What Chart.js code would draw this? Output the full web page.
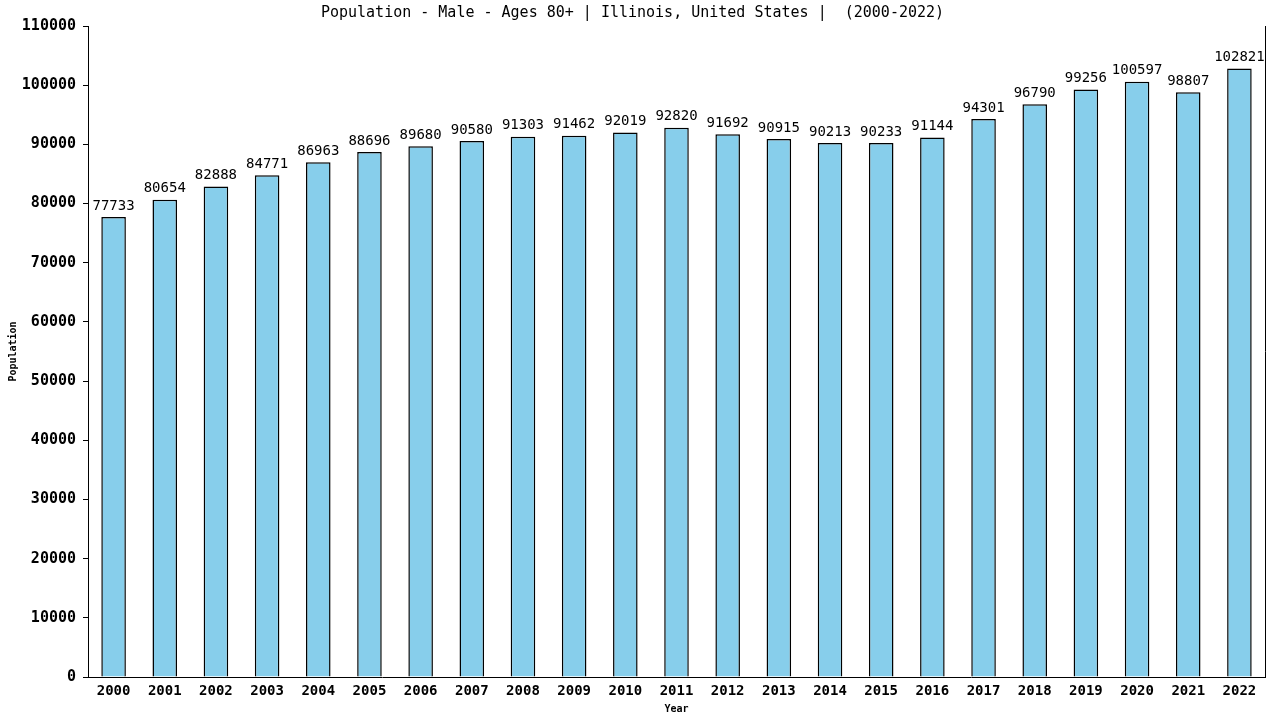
<!DOCTYPE html>
<html>
<head>
<meta charset="utf-8">
<script src="https://cdn.jsdelivr.net/npm/chart.js@4/dist/chart.umd.min.js"></script>
<style>
  html, body { margin: 0; padding: 0; background: #fff; }
  #wrap { width: 1280px; height: 720px; }
</style>
</head>
<body>
<div id="wrap"><canvas id="popChart" width="1280" height="720"></canvas></div>
<script>
// Dữ liệu
const years = ['2000', '2001', '2002', '2003', '2004', '2005', '2006', '2007', '2008', '2009', '2010', '2011',
  '2012', '2013', '2014', '2015', '2016', '2017', '2018', '2019', '2020', '2021', '2022'];
const population = [77733, 80654, 82888, 84771, 86963, 88696, 89680, 90580, 91303, 91462, 92019, 92820,
  91692, 90915, 90213, 90233, 91144, 94301, 96790, 99256, 100597, 98807, 102821];
const yTicks = [0, 10000, 20000, 30000, 40000, 50000, 60000, 70000, 80000, 90000, 100000, 110000];

const FONT = '"DejaVu Sans Mono", "Liberation Mono", monospace';

// nhãn giá trị trên cột + khung bên phải
const barLabels = {
  id: 'barLabels',
  afterDatasetsDraw(chart) {
    const ctx = chart.ctx;
    const meta = chart.getDatasetMeta(0);
    ctx.save();
    ctx.font = '14px ' + FONT;
    ctx.fillStyle = '#000';
    ctx.textAlign = 'center';
    ctx.textBaseline = 'bottom';
    meta.data.forEach((bar, i) => {
      ctx.fillText(String(population[i]), bar.x, bar.y - 4);
    });
    const a = chart.chartArea;
    ctx.strokeStyle = '#000';
    ctx.lineWidth = 1;
    ctx.beginPath();
    ctx.moveTo(a.right + 0.5, a.top);
    ctx.lineTo(a.right + 0.5, a.bottom);
    ctx.stroke();
    ctx.restore();
  }
};

new Chart(document.getElementById('popChart'), {
  type: 'bar',
  data: {
    labels: years,
    datasets: [{
      data: population,
      backgroundColor: '#87ceeb',
      borderColor: '#000',
      borderWidth: 1.5,
      barPercentage: 0.96,
      categoryPercentage: 0.5
    }]
  },
  options: {
    responsive: false,
    animation: false,
    layout: { padding: { left: 0, right: 15, top: 0, bottom: 0 } },
    plugins: {
      legend: { display: false },
      tooltip: { enabled: false },
      title: {
        display: true,
        text: 'Population - Male - Ages 80+ | Illinois, United States |  (2000-2022)',
        color: '#000',
        font: { family: FONT, size: 15, weight: 'normal', lineHeight: 1.2 },
        padding: { top: 4, bottom: 4 }
      }
    },
    scales: {
      x: {
        grid: { display: false, drawTicks: false },
        border: { color: '#000', width: 1 },
        ticks: { color: '#000', font: { family: FONT, size: 14, weight: 'bold' }, padding: 6, maxRotation: 0, autoSkip: false },
        title: { display: true, text: 'Year', color: '#000', font: { family: FONT, size: 10, weight: 'bold' }, padding: { top: 0, bottom: 5 } },
        afterFit(scale) { scale.height = 43; }
      },
      y: {
        min: 0,
        max: 110000,
        afterBuildTicks(scale) { scale.ticks = yTicks.map(v => ({ value: v })); },
        grid: { display: true, drawOnChartArea: false, drawTicks: true, tickLength: 5, color: '#000' },
        border: { color: '#000', width: 1 },
        ticks: { color: '#000', font: { family: FONT, size: 15, weight: 'bold' }, padding: 7, callback: v => String(v) },
        title: { display: true, text: 'Population', color: '#000', font: { family: FONT, size: 10, weight: 'bold' }, padding: { top: 7, bottom: 6 } },
        afterFit(scale) { scale.width = 88; }
      }
    }
  },
  plugins: [barLabels]
});
</script>
</body>
</html>
